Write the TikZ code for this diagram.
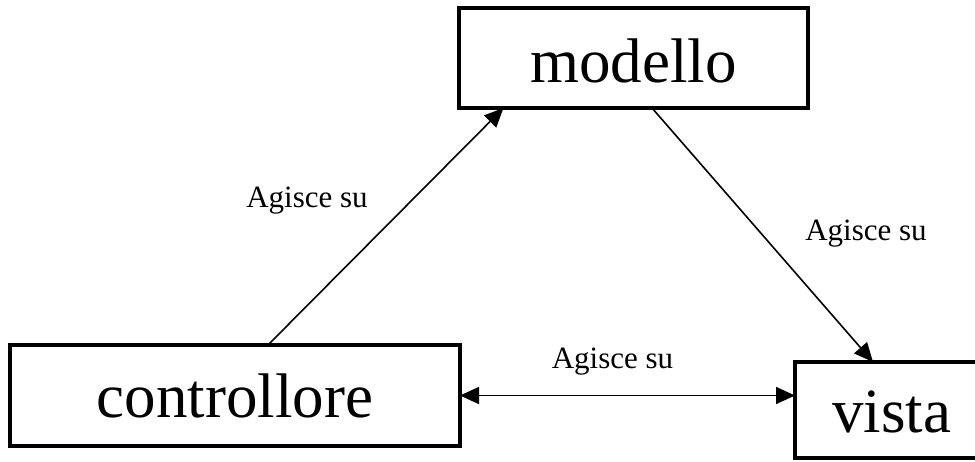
\documentclass[tikz,border=0pt]{standalone}
\usepackage{fontspec}
\setmainfont{Liberation Serif}
\usetikzlibrary{arrows.meta}

\tikzset{
  box/.style={draw, line width=3.4pt, inner sep=0pt, outer sep=0pt,
    font=\fontsize{63}{70}\selectfont, text height=43pt, text depth=0pt},
  link/.style={line width=1.6pt, -{Triangle[length=19pt, width=17pt]}},
  biglink/.style={line width=1.6pt, {Triangle[length=19pt, width=17pt]}-{Triangle[length=19pt, width=17pt]}},
  tag/.style={font=\fontsize{31}{36}\selectfont, anchor=base, inner sep=0pt}
}

\begin{document}
\begin{tikzpicture}[x=1pt, y=-1pt]
  \path[use as bounding box, clip] (0,0) rectangle (975,461);

  % the three components
  \node[box, minimum width=349pt, minimum height=100pt, text height=48pt] (mod) at (633.5,58) {modello};
  \node[box, minimum width=450pt, minimum height=101pt] (ctrl) at (235,395.5) {controllore};
  \node[box, minimum width=193pt, minimum height=96pt, text height=44pt] (vista) at (891.5,410) {vista};

  % relations between them
  \draw[link] ([xshift=33pt]ctrl.north) -- ([xshift=-130pt]mod.south);
  \draw[link] ([xshift=18.5pt]mod.south) -- ([xshift=-18.5pt]vista.north);
  \draw[biglink] (ctrl.east) -- (ctrl.east -| vista.west);

  % labels
  \node[tag] (l1) at (307,207) {Agisce su};
  \node[tag] (l2) at (866,240) {Agisce su};
  \node[tag] (l3) at (612.5,368) {Agisce su};
\end{tikzpicture}
\end{document}
